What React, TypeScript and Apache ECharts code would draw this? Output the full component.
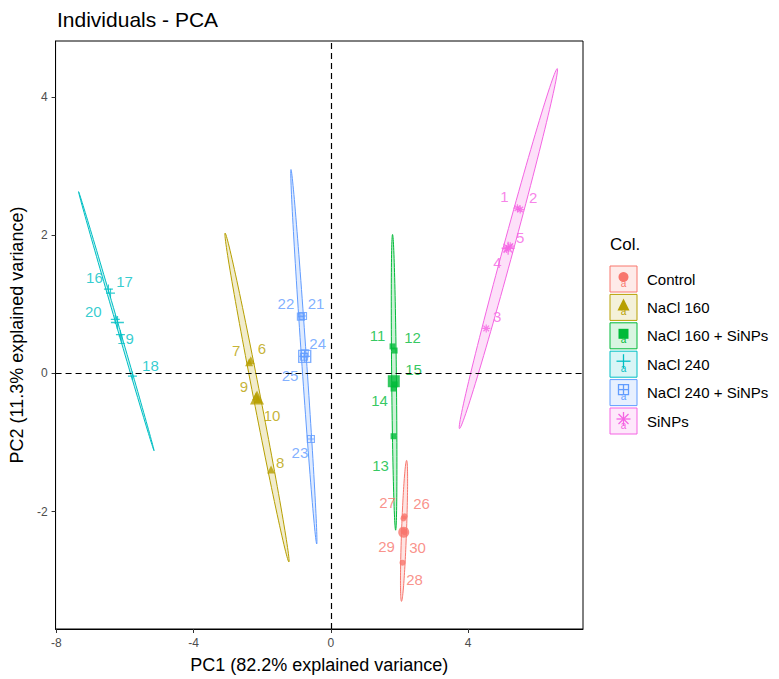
import React, { useEffect, useRef } from "react";
import * as echarts from "echarts";

// ---- data ----
const groupNames = ["Control", "NaCl 160", "NaCl 160 + SiNPs", "NaCl 240", "NaCl 240 + SiNPs", "SiNPs"];

// [individual id, PC1, PC2]
const controlPts: [string, number, number][] = [
  ["26", 2.15, -2.07], ["27", 2.12, -2.1], ["28", 2.09, -2.74], ["29", 2.12, -2.28], ["30", 2.15, -2.3],
];
const nacl160Pts: [string, number, number][] = [
  ["6", -2.33, 0.19], ["7", -2.38, 0.16], ["8", -1.74, -1.39], ["9", -2.18, -0.33], ["10", -2.12, -0.37],
];
const nacl160SiPts: [string, number, number][] = [
  ["11", 1.8, 0.39], ["12", 1.86, 0.33], ["13", 1.83, -0.91], ["14", 1.83, -0.22], ["15", 1.86, -0.16],
];
const nacl240Pts: [string, number, number][] = [
  ["16", -6.48, 1.22], ["17", -6.42, 1.16], ["18", -5.78, -0.04], ["19", -6.13, 0.56], ["20", -6.28, 0.78],
];
const nacl240SiPts: [string, number, number][] = [
  ["21", -0.81, 0.83], ["22", -0.87, 0.82], ["23", -0.58, -0.95], ["24", -0.76, 0.29], ["25", -0.78, 0.24],
];
const sinpsPts: [string, number, number][] = [
  ["1", 5.44, 2.39], ["2", 5.52, 2.37], ["3", 4.53, 0.65], ["4", 5.12, 1.8], ["5", 5.23, 1.84],
];

// ellipse: [tip1 PC1, tip1 PC2, tip2 PC1, tip2 PC2, minor/major ratio]
const controlEllipse = [2.21, -1.26, 2.06, -3.3, 0.035];
const nacl160Ellipse = [-3.08, 2.03, -1.22, -2.73, 0.021];
const nacl160SiEllipse = [1.8, 2.01, 1.89, -2.27, 0.016];
const nacl240Ellipse = [-7.35, 2.63, -5.15, -1.12, 0.008];
const nacl240SiEllipse = [-1.16, 2.95, -0.41, -2.47, 0.013];
const sinpsEllipse = [6.6, 4.41, 3.75, -0.8, 0.028];

const xTicks = [-8, -4, 0, 4];
const yTicks = [-2, 0, 2, 4];

// ---- styling ----
const FONT = "Liberation Sans, Arial, sans-serif";
const colors = ["#F8766D", "#B79F00", "#00BA38", "#00BFC4", "#619CFF", "#F564E3"];
const groupPoints = [controlPts, nacl160Pts, nacl160SiPts, nacl240Pts, nacl240SiPts, sinpsPts];
const groupEllipses = [controlEllipse, nacl160Ellipse, nacl160SiEllipse, nacl240Ellipse, nacl240SiEllipse, sinpsEllipse];

const symbols = [
  "circle",
  "triangle",
  "rect",
  "path://M0,5H10M5,0V10",
  "path://M0,0H10V10H0ZM5,0V10M0,5H10",
  "path://M0,5H10M5,0V10M1.5,1.5L8.5,8.5M1.5,8.5L8.5,1.5",
];
const strokeOnly = [false, false, false, true, true, true];
const smallSizes = [6, 8, 6, 9, 7, 8];
const meanSizes = [11, 14, 12, 13, 12, 13];

const labelOffsets: Record<string, [number, number]> = {
  "16": [-14, -12], "17": [14, -12], "20": [-22, -8], "19": [5, 4], "18": [18, -11],
  "7": [-13, -12], "6": [11, -12], "9": [-12, -10], "10": [14, 17], "8": [9, -7],
  "22": [-15, -13], "21": [13, -12], "24": [13, -10], "25": [-14, 19], "23": [-11, 14],
  "11": [-15, -11], "12": [18, -13], "15": [19, -15], "14": [-14, 12], "13": [-13, 29],
  "27": [-16, -16], "26": [17, -13], "29": [-17, 16], "30": [13, 15], "28": [12, 17],
  "1": [-13, -12], "2": [13, -12], "5": [10, -9], "4": [-9, 14], "3": [11, -12],
};

function itemStyleFor(i: number, bw = 1.2) {
  return strokeOnly[i]
    ? { color: "rgba(0,0,0,0)", borderColor: colors[i], borderWidth: bw }
    : { color: colors[i], borderWidth: 0 };
}

function legendGraphics() {
  const els: any[] = [];
  els.push({
    type: "text",
    left: 610,
    top: 236,
    style: { text: "Col.", font: `17px ${FONT}`, fill: "#000" },
  });
  const x0 = 610, w = 27, h = 26, top0 = 266, step = 28.4;
  groupNames.forEach((name, i) => {
    const y = top0 + i * step;
    const c = colors[i];
    const cx = x0 + w / 2, cy = y + h / 2 - 2;
    els.push({
      type: "rect",
      shape: { x: x0, y, width: w, height: h },
      style: { fill: c + "26", stroke: c, lineWidth: 1 },
    });
    const line = (x1: number, y1: number, x2: number, y2: number) => ({
      type: "line",
      shape: { x1, y1, x2, y2 },
      style: { stroke: c, lineWidth: 1.3 },
    });
    if (i === 0) els.push({ type: "circle", shape: { cx, cy, r: 5 }, style: { fill: c } });
    if (i === 1)
      els.push({ type: "polygon", shape: { points: [[cx, cy - 7], [cx - 6, cy + 5], [cx + 6, cy + 5]] }, style: { fill: c } });
    if (i === 2) els.push({ type: "rect", shape: { x: cx - 5, y: cy - 5, width: 10, height: 10 }, style: { fill: c } });
    if (i === 3) {
      els.push(line(cx - 7, cy - 1, cx + 7, cy - 1));
      els.push(line(cx, cy - 8, cx, cy + 6));
    }
    if (i === 4) {
      els.push({ type: "rect", shape: { x: cx - 5, y: cy - 6, width: 10, height: 10 }, style: { fill: "none", stroke: c, lineWidth: 1.3 } });
      els.push(line(cx - 5, cy - 1, cx + 5, cy - 1));
      els.push(line(cx, cy - 6, cx, cy + 4));
    }
    if (i === 5) {
      els.push(line(cx - 7, cy, cx + 7, cy));
      els.push(line(cx, cy - 7, cx, cy + 7));
      els.push(line(cx - 5, cy - 5, cx + 5, cy + 5));
      els.push(line(cx - 5, cy + 5, cx + 5, cy - 5));
    }
    els.push({
      type: "text",
      x: cx,
      y: cy + 1,
      style: { text: "a", font: `10px ${FONT}`, fill: c, align: "center", verticalAlign: "top" },
    });
    els.push({
      type: "text",
      x: 647,
      y: y + h / 2,
      style: { text: name, font: `15px ${FONT}`, fill: "#000", verticalAlign: "middle" },
    });
  });
  return els;
}

export default function App() {
  const ref = useRef<HTMLDivElement>(null);
  useEffect(() => {
    if (!ref.current) return;
    const chart = echarts.init(ref.current, null, { renderer: "svg" });

    const series: any[] = [];
    // ellipses
    groupNames.forEach((name, i) => {
      series.push({
        type: "custom",
        name: name + " ellipse",
        z: 1,
        silent: true,
        data: [groupEllipses[i]],
        renderItem: (params: any, api: any) => {
          const p1 = api.coord([api.value(0), api.value(1)]);
          const p2 = api.coord([api.value(2), api.value(3)]);
          const ratio = api.value(4);
          const cx = (p1[0] + p2[0]) / 2, cy = (p1[1] + p2[1]) / 2;
          const dx = (p2[0] - p1[0]) / 2, dy = (p2[1] - p1[1]) / 2;
          const L = Math.hypot(dx, dy);
          const wv = L * ratio;
          const ux = dx / L, uy = dy / L, vx = -uy, vy = ux;
          const pts: number[][] = [];
          const N = 120;
          for (let k = 0; k < N; k++) {
            const t = (2 * Math.PI * k) / N;
            const a = Math.cos(t) * L, b = Math.sin(t) * wv;
            pts.push([cx + ux * a + vx * b, cy + uy * a + vy * b]);
          }
          return {
            type: "polygon",
            shape: { points: pts },
            style: { fill: colors[i] + "33", stroke: colors[i], lineWidth: 1 },
          };
        },
      });
    });
    // individuals
    groupNames.forEach((name, i) => {
      const pts = groupPoints[i];
      series.push({
        type: "scatter",
        name,
        z: 3,
        symbol: symbols[i],
        symbolSize: smallSizes[i],
        itemStyle: itemStyleFor(i),
        label: {
          show: true,
          position: "inside",
          formatter: "{b}",
          color: colors[i],
          fontSize: 15,
          fontFamily: FONT,
          textBorderWidth: 0,
        },
        labelLayout: (p: any) => {
          const id = pts[p.dataIndex][0];
          const off = labelOffsets[id] || [0, 0];
          return {
            x: p.rect.x + p.rect.width / 2 + off[0],
            y: p.rect.y + p.rect.height / 2 + off[1],
            align: "center",
            verticalAlign: "middle",
            hideOverlap: false,
          };
        },
        data: pts.map(([id, x, y]) => ({ name: id, value: [x, y] })),
      });
    });
    // group means
    groupNames.forEach((name, i) => {
      const pts = groupPoints[i];
      const mx = pts.reduce((s, p) => s + p[1], 0) / pts.length;
      const my = pts.reduce((s, p) => s + p[2], 0) / pts.length;
      series.push({
        type: "scatter",
        name: name + " mean",
        z: 4,
        symbol: symbols[i],
        symbolSize: meanSizes[i],
        itemStyle: itemStyleFor(i, 1.4),
        data: [[mx, my]],
      });
    });
    // reference dashed lines
    series.push({
      type: "scatter",
      name: "ref",
      data: [],
      z: 2,
      markLine: {
        silent: true,
        symbol: ["none", "none"],
        label: { show: false },
        lineStyle: { color: "#000", type: [6, 4], width: 1.2 },
        data: [{ xAxis: 0 }, { yAxis: 0 }],
      },
    });

    chart.setOption({
      animation: false,
      textStyle: { fontFamily: FONT },
      title: {
        text: "Individuals - PCA",
        left: 52,
        top: 4,
        textStyle: { fontSize: 21, fontWeight: "normal", color: "#000", fontFamily: FONT },
      },
      grid: {
        left: 54,
        top: 41,
        right: 196,
        bottom: 47,
        show: true,
        borderColor: "#000",
        borderWidth: 1,
        backgroundColor: "transparent",
      },
      xAxis: {
        type: "value",
        min: -8.02,
        max: 7.35,
        name: "PC1 (82.2% explained variance)",
        nameLocation: "middle",
        nameGap: 27,
        nameTextStyle: { fontSize: 18, color: "#000", fontFamily: FONT },
        axisLine: { show: true, onZero: false, lineStyle: { color: "#000", width: 1 } },
        axisTick: { show: true, length: 4, customValues: xTicks, lineStyle: { color: "#333" } },
        axisLabel: { customValues: xTicks, color: "#4D4D4D", fontSize: 12, margin: 8, fontFamily: FONT },
        splitLine: { show: false },
      },
      yAxis: {
        type: "value",
        min: -3.7,
        max: 4.81,
        name: "PC2 (11.3% explained variance)",
        nameLocation: "middle",
        nameGap: 29,
        nameRotate: 90,
        nameTextStyle: { fontSize: 18, color: "#000", fontFamily: FONT },
        axisLine: { show: true, onZero: false, lineStyle: { color: "#000", width: 1 } },
        axisTick: { show: true, length: 4, customValues: yTicks, lineStyle: { color: "#333" } },
        axisLabel: { customValues: yTicks, color: "#4D4D4D", fontSize: 12, margin: 8, fontFamily: FONT },
        splitLine: { show: false },
      },
      graphic: legendGraphics(),
      series,
    });
    return () => chart.dispose();
  }, []);
  return (
    <div
      ref={ref}
      style={{ position: "fixed", left: 0, top: 0, width: 779, height: 679, background: "#fff" }}
    />
  );
}
